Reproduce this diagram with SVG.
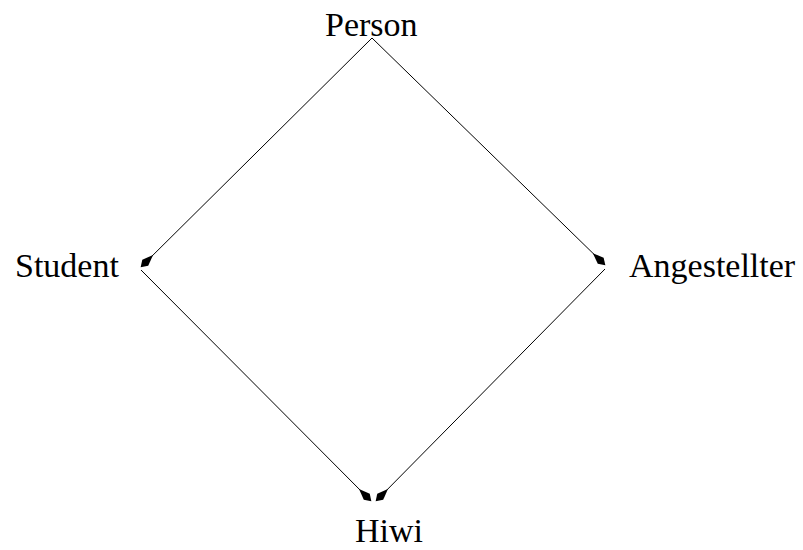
<svg xmlns="http://www.w3.org/2000/svg" width="803" height="550" viewBox="0 0 803 550">
<style>
text{font-family:"Liberation Serif","Times New Roman",serif;font-size:34px;fill:#000}
.e{stroke:#000;stroke-width:1;fill:none;marker-end:url(#ah)}
</style>
<defs>
<marker id="ah" markerUnits="userSpaceOnUse" markerWidth="18" markerHeight="10" refX="17" refY="5" orient="auto" viewBox="0 0 18 10">
<path d="M17.5,5 L11,0.8 L0,5 L11,9.2 Z" fill="#000"/>
</marker>
</defs>
<rect width="803" height="550" fill="#fff"/>
<g id="connectors">
<line class="e" x1="372" y1="38" x2="141" y2="267"/>
<line class="e" x1="372" y1="38" x2="605" y2="265"/>
<line class="e" x1="141" y1="270" x2="371" y2="501"/>
<line class="e" x1="605" y1="269" x2="376" y2="501"/>
</g>
<g id="person"><text x="325" y="36">Person</text></g>
<g id="student"><text x="15" y="277">Student</text></g>
<g id="angestellter"><text x="629" y="277">Angestellter</text></g>
<g id="hiwi"><text x="355" y="542">Hiwi</text></g>
</svg>
